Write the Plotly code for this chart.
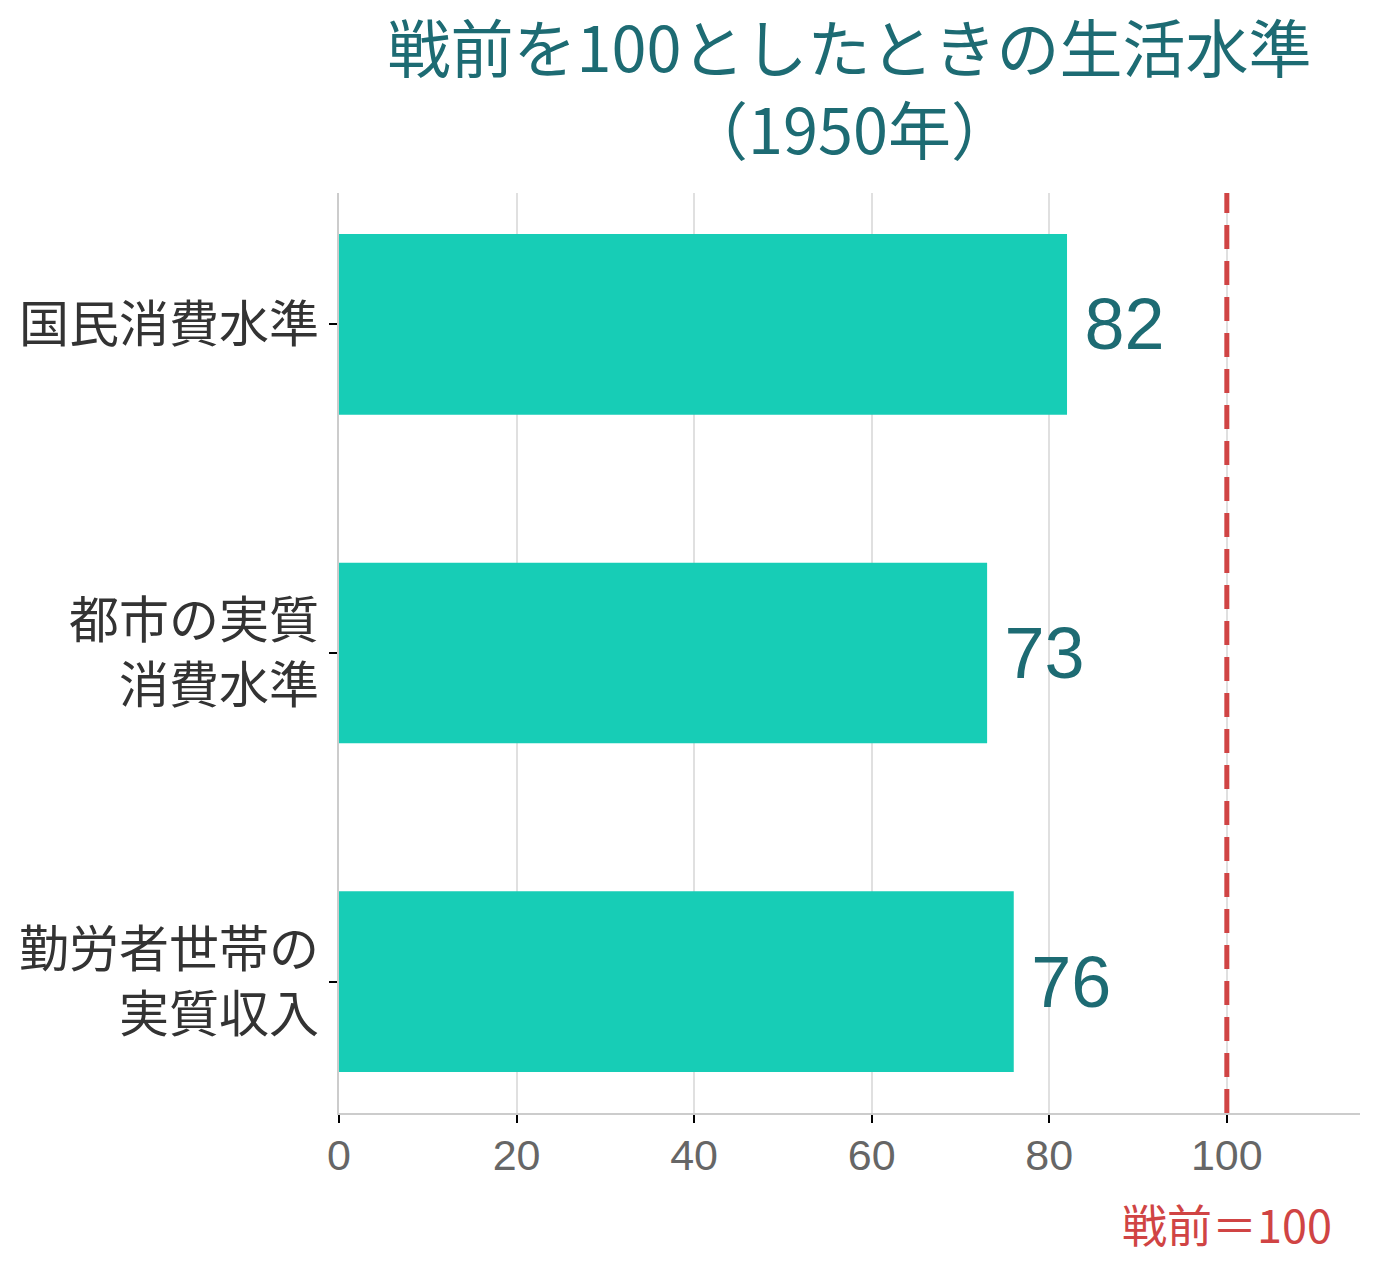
import plotly.graph_objects as go

categories = ["国民消費水準", "都市の実質<br>消費水準", "勤労者世帯の<br>実質収入"]
values = [82, 73, 76]
baseline = 100
x_ticks = [0, 20, 40, 60, 80, 100]
title_text = "戦前を100としたときの生活水準<br>（1950年）"
baseline_label = "戦前＝100"

TEAL = "#1d6b73"
BAR = "#17cdb6"
RED = "#d04444"
CJK = "Noto Sans CJK JP"

fig = go.Figure()
fig.add_trace(go.Bar(
    y=categories, x=values, orientation="h",
    marker=dict(color=BAR, line=dict(width=0)),
    width=0.55,
    text=[str(v) for v in values], texttemplate="\u2009%{text}", textposition="outside",
    textfont=dict(family="Liberation Sans, Arial", size=72, color=TEAL),
    cliponaxis=False,
))

fig.add_shape(type="line", xref="x", yref="paper", x0=baseline, x1=baseline, y0=0, y1=1,
              line=dict(color=RED, width=5, dash="24px,12px"), layer="above")
fig.add_annotation(x=baseline, xref="x", yref="paper", y=0, yshift=-76, yanchor="top",
                   text=baseline_label, showarrow=False,
                   font=dict(family=CJK, size=45, color=RED))

fig.update_layout(
    width=1380, height=1270,
    paper_bgcolor="white", plot_bgcolor="white",
    margin=dict(l=339, r=20, t=193, b=157),
    title=dict(text=title_text, x=0.5, xref="paper", xanchor="center",
               y=1 - 72 / 1270, yref="container", yanchor="top",
               font=dict(family=CJK, size=63, color=TEAL)),
    showlegend=False,
    bargap=0.45,
    xaxis=dict(range=[0, 115], tickvals=x_ticks, ticks="outside", ticklen=8, tickwidth=2,
               tickcolor="black", showline=True, linecolor="#cccccc", linewidth=2,
               showgrid=True, gridcolor="#e0e0e0", gridwidth=2, zeroline=False,
               ticklabelstandoff=-5,
               tickfont=dict(family="Liberation Sans, Arial", size=43, color="#666666")),
    yaxis=dict(categoryorder="array", categoryarray=categories, range=[2.4, -0.4],
               ticks="outside", ticklen=8, tickwidth=2, tickcolor="black",
               showline=True, linecolor="#cccccc", linewidth=2, showgrid=False,
               tickfont=dict(family=CJK, size=50, color="#333333")),
)

fig.write_html("out.html")
